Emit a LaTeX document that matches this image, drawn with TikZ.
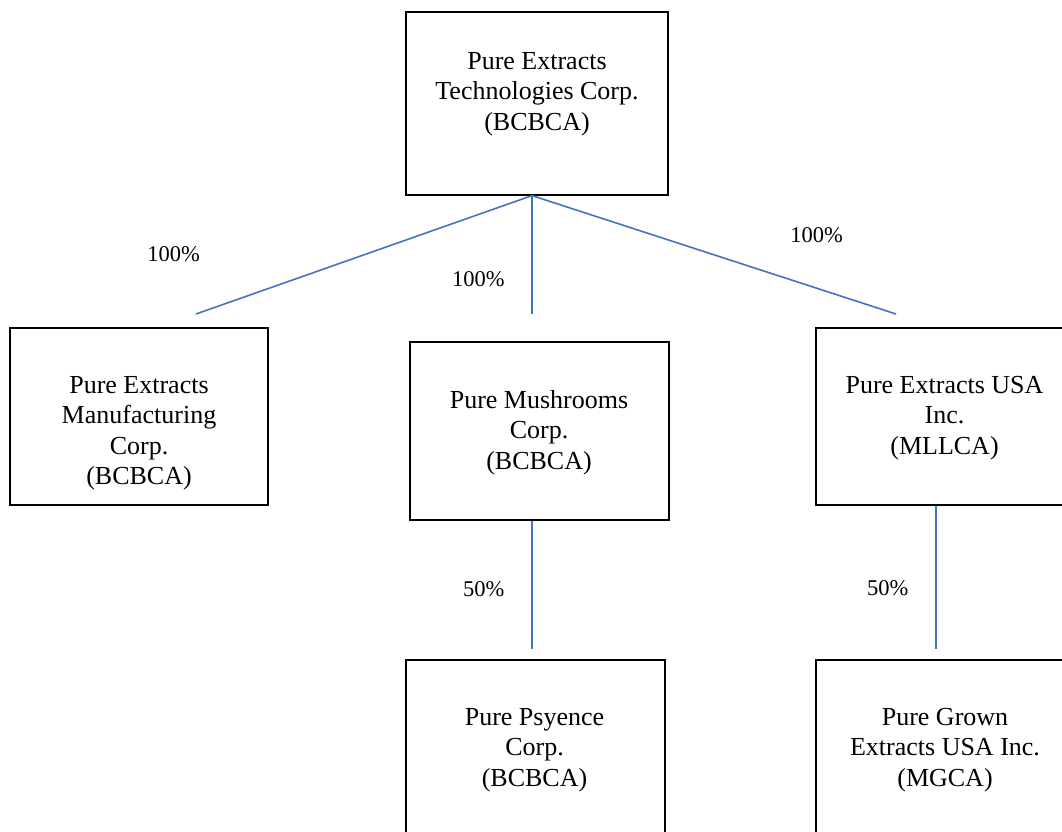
\documentclass[tikz,border=0pt]{standalone}
\usepackage{fontspec}
\setmainfont{Liberation Serif}
\usepackage{tikz}

\definecolor{linkblue}{RGB}{68,114,196}

\begin{document}
\begin{tikzpicture}[x=1pt,y=1pt,yscale=-1,xscale=1,
  unit/.style={draw=black,line width=1.2pt,rectangle,inner sep=0pt},
  unittext/.style={anchor=north,inner sep=0pt,align=center,font=\fontsize{26}{30.5}\selectfont},
  share/.style={anchor=base,inner sep=0pt,font=\fontsize{22.5}{27}\selectfont},
  link/.style={draw=linkblue,line width=1.6pt}]
\useasboundingbox (0,0) rectangle (1062,831);
\clip (0,0) rectangle (1062,831);

%Shape: Rectangle [top]
\node[unit,minimum width=262,minimum height=183] (top) at (537,103.5) {};
%Shape: Rectangle [mfg]
\node[unit,minimum width=258,minimum height=177] (mfg) at (139,416.5) {};
%Shape: Rectangle [mush]
\node[unit,minimum width=259,minimum height=178] (mush) at (539.5,431) {};
%Shape: Rectangle [usa]
\node[unit,minimum width=258,minimum height=177] (usa) at (945,416.5) {};
%Shape: Rectangle [psy]
\node[unit,minimum width=259,minimum height=178] (psy) at (535.5,749) {};
%Shape: Rectangle [grown]
\node[unit,minimum width=258,minimum height=178] (grown) at (945,749) {};

% Text Node
\node[unittext] (topT) at (537,52) {Pure Extracts\\Technologies Corp.\\(BCBCA)};
% Text Node
\node[unittext] (mfgT) at (139,376) {Pure Extracts\\Manufacturing\\Corp.\\(BCBCA)};
% Text Node
\node[unittext] (mushT) at (539,390) {Pure Mushrooms\\Corp.\\(BCBCA)};
% Text Node
\node[unittext] (usaT) at (944.5,376) {Pure Extracts USA\\Inc.\\(MLLCA)};
% Text Node
\node[unittext] (psyT) at (534.5,708) {Pure Psyence\\Corp.\\(BCBCA)};
% Text Node
\node[unittext] (grownT) at (945,708) {Pure Grown\\Extracts USA Inc.\\(MGCA)};

%Straight Lines
\coordinate (hub) at ([xshift=-5]top.south);
\coordinate (mfgIn) at (196,314);
\coordinate (mushIn) at (532,314);
\coordinate (usaIn) at (896,314);
\coordinate (psyIn) at (532,649);
\coordinate (grownIn) at (935.7,649);
\draw[link] (hub) -- (mfgIn);
\draw[link] (hub) -- (mushIn);
\draw[link] (hub) -- (usaIn);
\draw[link] ([xshift=-7.5]mush.south) -- (psyIn);
\draw[link] ([xshift=-9.3]usa.south) -- (grownIn);

% Text Node
\node[share] (pMfg) at (173.7,261.7) {100\%};
% Text Node
\node[share] (pMush) at (478.3,286.7) {100\%};
% Text Node
\node[share] (pUsa) at (816.7,242.7) {100\%};
% Text Node
\node[share] (pPsy) at (483.7,596.7) {50\%};
% Text Node
\node[share] (pGrown) at (887.7,595) {50\%};

\end{tikzpicture}
\end{document}
